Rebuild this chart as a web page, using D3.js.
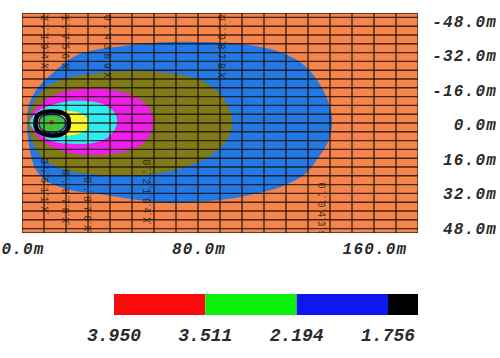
<!DOCTYPE html>
<html><head><meta charset="utf-8">
<script src="https://cdn.jsdelivr.net/npm/d3@7"></script>
<style>html,body{margin:0;padding:0;background:#fff;} svg{display:block}</style>
</head><body>
<svg id="c" width="500" height="358"></svg>
<script>
// ---------- data ----------
const xDomain = [0, 180];
const yDomain = [-50, 50];
const xTickValues = [0, 80, 160];
const xTickLabels = ["0.0m", "80.0m", "160.0m"];
const yTickValues = [-48, -32, -16, 0, 16, 32, 48];
const yTickLabels = ["-48.0m", "-32.0m", "-16.0m", "0.0m", "16.0m", "32.0m", "48.0m"];
const xGridValues = [0,10,20,30,40,50,60,70,80,90,100,110,120,130,140,150,160,170,180];
const yGridValues = [-50,-48,-44,-40,-36,-32,-28,-24,-20,-16,-12,-8,-4,0,4,8,12,16,20,24,28,32,36,40,44,48,50];

const legendLabels = ["3.950", "3.511", "2.194", "1.756"];
const legendColors = ["#fa0a0a", "#0cf00c", "#0c18ee", "#000000"];

// contour boundaries in metres [x, y]
const contourBlue = [[2.3,0],[3.2,-8.2],[5.9,-14.1],[9.5,-18.6],[13.6,-22.3],[18.6,-26.8],[25,-30.9],[33.2,-33.2],[42.3,-34.5],[53.6,-35.9],[67.3,-36.8],[80.9,-36.8],[94.5,-36.4],[105.9,-35],[118.6,-31.8],[128.6,-25.9],[136.4,-15.9],[140.5,-5],[140.9,0.9],[139.1,8.6],[134.5,15.9],[128.6,23.2],[118.6,28.6],[103.6,32.7],[90,35],[76.4,35.9],[62.7,35.9],[49.1,34.5],[35.5,32.3],[24.1,30.9],[17.3,29.1],[10.5,25.9],[5.9,20.5],[3.6,12.3]];
const contourOlive = [[2.7,0],[3.6,-5.9],[5.9,-10.5],[9.1,-14.5],[13.6,-17.7],[20.5,-20.5],[35.5,-22.7],[50.5,-23.6],[65.9,-22.7],[80.9,-19.5],[90,-13.2],[94.5,-5.9],[95.5,0.9],[93.2,7.7],[85.5,15],[74.1,20],[62.7,22.7],[49.1,24.1],[35.5,23.6],[24.1,22.3],[15,19.5],[9.1,15.5],[5,9.1]];
const contourMagenta = [[3.6,0],[4.5,-4.1],[7.3,-7.7],[12.7,-11.8],[20.5,-14.5],[28.6,-15.5],[35.5,-15.5],[43.2,-14.5],[50.5,-12.3],[55.9,-9.1],[59.1,-4.5],[59.5,0.5],[58.2,5.5],[54.1,10],[47.7,12.7],[40,14.1],[30.9,14.5],[21.8,13.6],[15,11.4],[9.1,8.2],[5.5,4.5]];
const contourCyan = [[3.6,0],[5,-3.2],[8.2,-5.9],[15,-8.6],[21.8,-10],[28.6,-10],[35.5,-9.1],[40,-6.8],[42.7,-3.6],[43.2,0],[41.8,3.6],[38.6,6.8],[32.3,9.1],[24.1,9.5],[17.3,9.1],[10.5,6.8],[5.9,3.6]];
const contourYellow = [[5.5,0],[8.2,-4.1],[15,-5.5],[21.8,-5.5],[26.4,-4.5],[29.5,-2.3],[30.5,0.5],[29.1,3.2],[25.5,5],[19.5,5.9],[12.7,5.5],[8.2,4.1]];
const contour1756 = [[6.1,0.2],[7.3,-3.6],[10.5,-5],[14.1,-5.2],[17.7,-4.8],[20.5,-3.2],[21.4,0],[20.5,3.2],[17.7,5.2],[13.6,5.7],[10,5],[7.3,3.6]];
const contour2194 = [[7.7,0.2],[8.6,-2.7],[10.9,-3.6],[14.1,-3.9],[16.8,-3.4],[19.1,-2],[19.8,0],[19.1,2.3],[16.8,3.9],[13.6,4.3],[10.9,3.9],[8.6,2.7]];
const sourcePoint = [13.5, -0.3];

const contourLabels = [
  {t:"2.194X", x:10.0, y:-49.2},
  {t:"1.756X", x:19.5, y:-49.2},
  {t:"0.4389X", x:38.5, y:-49.2},
  {t:"0.0878X", x:90.5, y:-49.2},
  {t:"3.511X", x:10.0, y:16.0},
  {t:"0.878X", x:19.5, y:21.0},
  {t:"0.878X", x:29.5, y:24.5},
  {t:"0.2194X", x:56.5, y:16.5},
  {t:"0.0439X", x:136.0, y:27.0}
];

// ---------- drawing ----------
const svg = d3.select("#c");
const x = d3.scaleLinear().domain(xDomain).range([22, 418]);
const y = d3.scaleLinear().domain(yDomain).range([13, 233]);

svg.append("defs").append("clipPath").attr("id","clip")
  .append("rect").attr("x",22).attr("y",13).attr("width",396).attr("height",220);

const plot = svg.append("g").attr("clip-path","url(#clip)");
plot.append("rect").attr("x",22).attr("y",13).attr("width",396).attr("height",220).attr("fill","#f3854d");

const line = d3.line().x(d=>x(d[0])).y(d=>y(d[1])).curve(d3.curveCatmullRomClosed.alpha(0.5));
const fills = [
  [contourBlue, "#2279e4"],
  [contourOlive, "#7f7a1a"],
  [contourMagenta, "#ec20e8"],
  [contourCyan, "#2eecf0"],
  [contourYellow, "#f8f82c"]
];
fills.forEach(([d,c]) => plot.append("path").attr("d", line(d)).attr("fill", c));

plot.append("path").attr("d", line(contour1756)).attr("fill","none").attr("stroke","#000").attr("stroke-width",4.5);
plot.append("path").attr("d", line(contour2194)).attr("fill","#3cc43c").attr("stroke","#1626c8").attr("stroke-width",1.6);
plot.append("circle").attr("cx", x(sourcePoint[0])).attr("cy", y(sourcePoint[1])).attr("r", 2.3).attr("fill","#d0301c");

// grid
const grid = plot.append("g").attr("stroke","#1a0800").attr("stroke-opacity",0.78).attr("stroke-width",1.4);
grid.selectAll("line.v").data(xGridValues).join("line").attr("class","v")
  .attr("x1",d=>x(d)).attr("x2",d=>x(d)).attr("y1",13).attr("y2",233);
grid.selectAll("line.h").data(yGridValues).join("line").attr("class","h")
  .attr("y1",d=>y(d)).attr("y2",d=>y(d)).attr("x1",22).attr("x2",418);

// contour labels (rotated)
const lab = plot.append("g");
contourLabels.forEach(l => {
  const px = x(l.x), py = y(l.y);
  lab.append("text").attr("x",px).attr("y",py)
    .attr("transform",`rotate(90,${px},${py})`)
    .attr("font-family","Liberation Mono, monospace").attr("font-size",10)
    .attr("letter-spacing",3.6).attr("fill","#1a1208").attr("fill-opacity",0.8)
    .attr("dy","0.3em")
    .text(l.t);
  lab.append("line").attr("x1",px+4).attr("x2",px+4).attr("y1",py).attr("y2",py+l.t.length*9.5)
    .attr("stroke","#1a1208").attr("stroke-opacity",0.6).attr("stroke-dasharray","1.5,3");
});

// axis labels
const fontAxis = "Liberation Mono, Courier New, monospace";
svg.append("g").selectAll("text").data(xTickValues).join("text")
  .attr("x", d=>x(d)+1).attr("y", 248).attr("dy","0.35em")
  .attr("text-anchor","middle")
  .attr("font-family",fontAxis).attr("font-size",16).attr("font-style","italic").attr("font-weight","bold")
  .attr("letter-spacing",1.2).attr("fill","#2a2a2a")
  .text((d,i)=>xTickLabels[i]);

const yLab = d3.scaleLinear().domain([-48,48]).range([21,228]);
svg.append("g").selectAll("text").data(yTickValues).join("text")
  .attr("x", 497).attr("y", d=>yLab(d)).attr("dy","0.35em")
  .attr("text-anchor","end")
  .attr("font-family",fontAxis).attr("font-size",16).attr("font-style","italic").attr("font-weight","bold")
  .attr("letter-spacing",1.2).attr("fill","#2a2a2a")
  .text((d,i)=>yTickLabels[i]);

// legend
const lx = d3.scaleLinear().domain([0,3]).range([114, 388]);
const blackWidth = 30;
const leg = svg.append("g");
leg.selectAll("rect").data(legendColors).join("rect")
  .attr("x",(d,i)=>lx(i)).attr("y",294)
  .attr("width",(d,i)=> i<3 ? lx(i+1)-lx(i) : blackWidth).attr("height",21)
  .attr("fill",d=>d);
leg.selectAll("text").data(legendLabels).join("text")
  .attr("x",(d,i)=>lx(i)).attr("y",335).attr("dy","0.35em")
  .attr("text-anchor","middle")
  .attr("font-family",fontAxis).attr("font-size",18).attr("font-style","italic").attr("font-weight","bold")
  .attr("fill","#2a2a2a")
  .text(d=>d);
</script>
</body></html>
